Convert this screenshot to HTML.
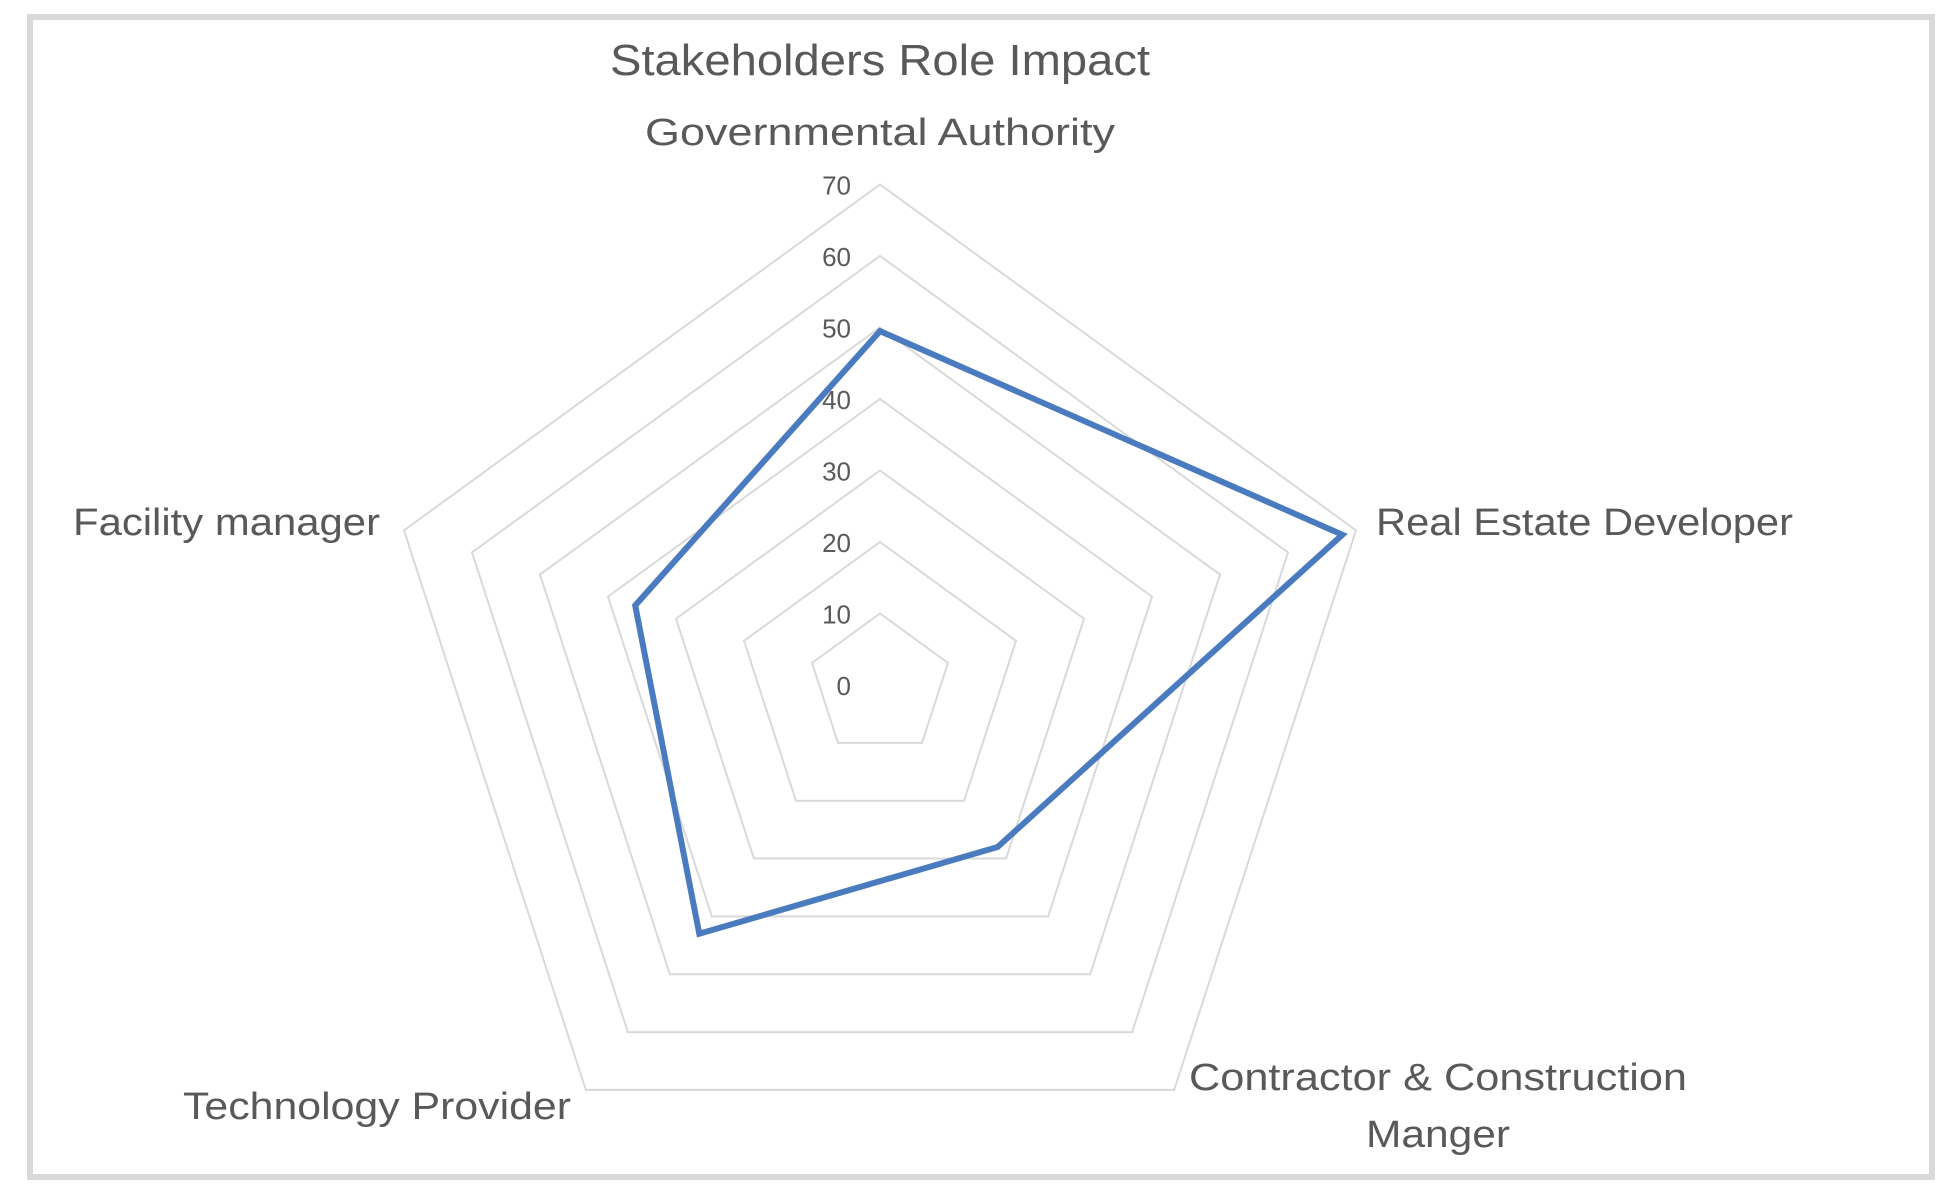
<!DOCTYPE html>
<html><head><meta charset="utf-8"><style>
html,body{margin:0;padding:0;background:#fff;}
svg{display:block;font-family:"Liberation Sans",sans-serif;}
</style></head><body>
<svg id="chart" width="1956" height="1199" viewBox="0 0 1956 1199">
<rect x="30" y="17" width="1902" height="1160" fill="#fff" stroke="#d9d9d9" stroke-width="6"/>
<text x="880" y="75" text-anchor="middle" font-size="44" fill="#595959" textLength="540" lengthAdjust="spacingAndGlyphs">Stakeholders Role Impact</text>
<g id="grid"></g>
<g id="ticks"></g>
<g id="series"></g>
<g id="cats"></g>
</svg>
<script>
const categories = ["Governmental Authority","Real Estate Developer","Contractor & Construction Manger","Technology Provider","Facility manager"];
const values = [49.5, 68, 28, 43, 36];
const tickValues = [0,10,20,30,40,50,60,70];
const tickLabels = ["0","10","20","30","40","50","60","70"];

const NS="http://www.w3.org/2000/svg";
const cx=880, cy=685, R=500.5, maxV=70;
function rad(v){return v/maxV*R;}
function pt(i,v){const a=-Math.PI/2+i*2*Math.PI/categories.length;return [cx+rad(v)*Math.cos(a),cy+rad(v)*Math.sin(a)];}
function mk(tag,attrs,parent){const e=document.createElementNS(NS,tag);for(const k in attrs)e.setAttribute(k,attrs[k]);parent.appendChild(e);return e;}

const grid=document.getElementById('grid');
tickValues.forEach(function(t){
  if(t===0)return;
  const pts=categories.map(function(c,i){return pt(i,t).join(',');}).join(' ');
  const p=mk('polygon',{points:pts,fill:'none',stroke:'#d9d9d9','stroke-width':2},grid);
  
  
});
const ticks=document.getElementById('ticks');
tickValues.forEach(function(t,k){
  const tx=mk('text',{x:851,y:cy-rad(t)+10,'text-anchor':'end','font-size':26,fill:'#595959'},ticks);
  tx.textContent=tickLabels[k];
  
  
});
const series=document.getElementById('series');
const line=mk('polygon',{points:values.map(function(v,i){return pt(i,v).join(',');}).join(' '),fill:'none',stroke:'#4a7bbf','stroke-width':6,'stroke-linejoin':'miter'},series);



const cats=document.getElementById('cats');
const labelSpecs=[
 {lines:["Governmental Authority"],x:880,y:145,anchor:'middle',len:[470]},
 {lines:["Real Estate Developer"],x:1376,y:535,anchor:'start',len:[417]},
 {lines:["Contractor & Construction","Manger"],x:1438,y:1090,anchor:'middle',len:[498,144],dy:57},
 {lines:["Technology Provider"],x:183,y:1119,anchor:'start',len:[388]},
 {lines:["Facility manager"],x:73,y:535,anchor:'start',len:[307]}
];
labelSpecs.forEach(function(s,i){
  s.lines.forEach(function(l,j){
    const tx=mk('text',{x:s.x,y:s.y+j*(s.dy||0),'text-anchor':s.anchor,'font-size':38,fill:'#595959',textLength:s.len[j],lengthAdjust:'spacingAndGlyphs'},cats);
    tx.textContent=j===0&&s.lines.length===1?categories[i]:l;
    
    
  });
});
</script>
</body></html>
